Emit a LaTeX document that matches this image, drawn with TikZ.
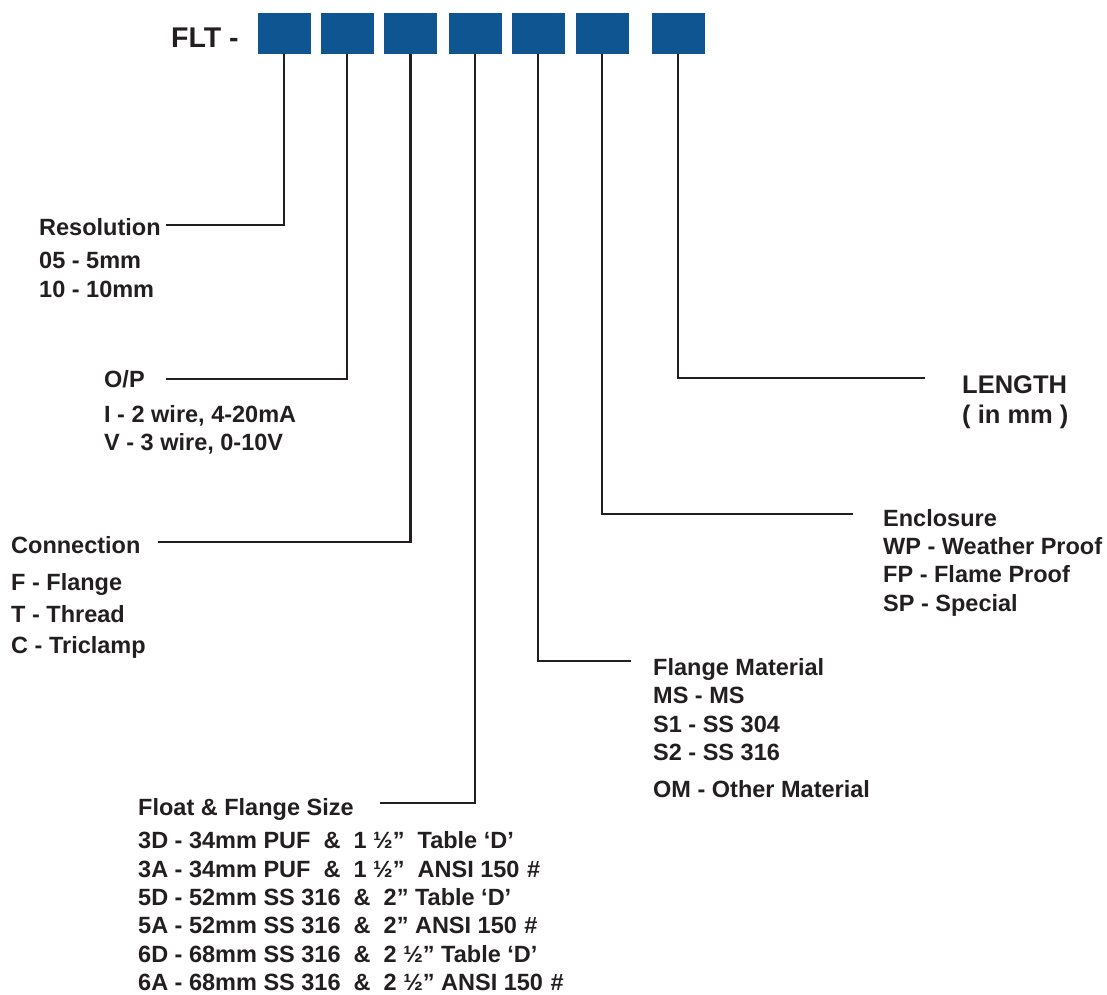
\documentclass[tikz,border=0pt]{standalone}
\usepackage{fontspec}
\setmainfont{Liberation Sans}
\definecolor{boxblue}{HTML}{0F5592}
\definecolor{ink}{HTML}{231F20}
\newcommand{\hashsp}{\hspace{0.32em}\#}
\begin{document}
\begin{tikzpicture}[x=1pt,y=-1pt,
  codebox/.style={fill=boxblue,draw=none,minimum width=53pt,minimum height=41pt,inner sep=0pt},
  conn/.style={draw=ink,line width=2.4pt},
  lbl/.style={anchor=base west,inner sep=0pt,text=ink,font=\bfseries\fontsize{23.5}{28}\selectfont},
  big/.style={anchor=base west,inner sep=0pt,text=ink,font=\bfseries\fontsize{25.5}{30}\selectfont},
  title/.style={anchor=base west,inner sep=0pt,text=ink,font=\bfseries\fontsize{28.5}{32}\selectfont}]
\useasboundingbox (0,0) rectangle (1107,994);
\node[title] (flt) at (171,47) {FLT -};
\node[codebox] (b1) at (284,33.5) {};
\node[codebox] (b2) at (347,33.5) {};
\node[codebox] (b3) at (410.5,33.5) {};
\node[codebox] (b4) at (475,33.5) {};
\node[codebox] (b5) at (538,33.5) {};
\node[codebox] (b6) at (602,33.5) {};
\node[codebox] (b7) at (678,33.5) {};
% Resolution
\node[lbl] (res) at (39,235) {Resolution};
\node[lbl] (res1) at (39,268) {05 - 5mm};
\node[lbl] (res2) at (39,297) {10 - 10mm};
\coordinate (r1) at (166,225);
\draw[conn] (b1.south) |- (r1);
% O/P
\node[lbl] (op) at (104,387) {O/P};
\node[lbl] (op1) at (104,422) {I - 2 wire, 4-20mA};
\node[lbl] (op2) at (104,450) {V - 3 wire, 0-10V};
\coordinate (o1) at (166,379);
\draw[conn] (b2.south) |- (o1);
% Connection
\node[lbl] (con) at (11,553) {Connection};
\node[lbl] (con1) at (11,590) {F - Flange};
\node[lbl] (con2) at (11,622) {T - Thread};
\node[lbl] (con3) at (11,653) {C - Triclamp};
\coordinate (c1) at (158,542);
\draw[conn] (b3.south) |- (c1);
% Float & Flange size
\node[lbl] (fl) at (138,815) {Float \& Flange Size};
\node[lbl] (fl1) at (138,848) {3D - 34mm PUF\ \ \&\ \ 1 ½”\ \ Table ‘D’};
\node[lbl] (fl2) at (138,877) {3A - 34mm PUF\ \ \&\ \ 1 ½”\ \ ANSI 150\hashsp};
\node[lbl] (fl3) at (138,905) {5D - 52mm SS 316\ \ \&\ \ 2” Table ‘D’};
\node[lbl] (fl4) at (138,933) {5A - 52mm SS 316\ \ \&\ \ 2” ANSI 150\hashsp};
\node[lbl] (fl5) at (138,962) {6D - 68mm SS 316\ \ \&\ \ 2 ½” Table ‘D’};
\node[lbl] (fl6) at (138,990) {6A - 68mm SS 316\ \ \&\ \ 2 ½” ANSI 150\hashsp};
\coordinate (f1) at (380,803);
\draw[conn] (b4.south) |- (f1);
% Flange material
\node[lbl] (fm) at (653,675) {Flange Material};
\node[lbl] (fm1) at (653,703) {MS - MS};
\node[lbl] (fm2) at (653,732) {S1 - SS 304};
\node[lbl] (fm3) at (653,760) {S2 - SS 316};
\node[lbl] (fm4) at (653,797) {OM - Other Material};
\coordinate (m1) at (631,661);
\draw[conn] (b5.south) |- (m1);
% Enclosure
\node[lbl] (en) at (883,526) {Enclosure};
\node[lbl] (en1) at (883,554) {WP - Weather Proof};
\node[lbl] (en2) at (883,582) {FP - Flame Proof};
\node[lbl] (en3) at (883,611) {SP - Special};
\coordinate (e1) at (853,514);
\draw[conn] (b6.south) |- (e1);
% Length
\node[big] (len) at (962,393) {LENGTH};
\node[big] (len1) at (962,423) {( in mm )};
\coordinate (l1) at (925,378);
\draw[conn] (b7.south) |- (l1);
\end{tikzpicture}
\end{document}
